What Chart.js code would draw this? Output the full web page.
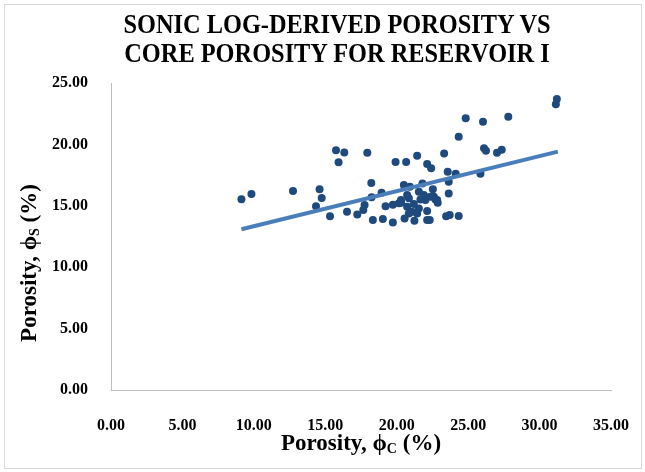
<!DOCTYPE html>
<html>
<head>
<meta charset="utf-8">
<script src="https://cdn.jsdelivr.net/npm/chart.js@4/dist/chart.umd.min.js"></script>
<style>
  html, body { margin: 0; padding: 0; background: #fff; }
  #wrap { position: relative; width: 645px; height: 472px; }
  #frame { position: absolute; left: 4px; top: 4px; width: 636px; height: 463px; border: 1px solid #d9d9d9; pointer-events: none; }
  #title {
    position: absolute; left: 337px; top: 9px; white-space: nowrap; text-align: center;
    font-family: 'Liberation Serif', 'Times New Roman', serif; font-weight: bold;
    font-size: 28px; line-height: 29px; color: #000;
    transform: translateX(-50%) scaleX(0.87);
  }
  canvas { position: absolute; left: 0; top: 0; }
</style>
</head>
<body>
<div id="wrap">
  <canvas id="chart" width="645" height="472"></canvas>
  <div id="frame"></div>
  <div id="title">SONIC LOG-DERIVED POROSITY VS<br>CORE POROSITY FOR RESERVOIR I</div>
</div>
<script>
// ===== Datos =====
const coreX = [
  9.13, 9.83, 12.74, 14.60, 14.75, 14.35, 15.33, 15.75, 16.33, 15.93,
  16.52, 17.24, 17.66, 17.75, 17.94, 18.22, 18.24, 18.33, 18.94, 19.03,
  19.22, 19.73, 19.73, 19.92, 20.15, 20.66, 20.55, 20.50, 20.31, 20.73,
  24.34, 21.43, 23.32, 22.13, 22.41, 23.57, 24.13, 23.64, 23.64, 24.34,
  23.71, 23.46, 22.13, 22.31, 21.24, 22.13, 21.80, 22.53, 22.83, 22.60,
  20.92, 21.55, 21.66, 22.01, 21.90, 31.21, 31.14, 24.83, 26.04, 27.81,
  26.11, 26.25, 27.02, 27.35, 25.86, 20.30, 20.85, 21.20, 22.71, 22.87,
  20.73, 21.07, 21.43, 20.85, 21.55, 22.36
];
const sonicY = [
  15.53, 15.96, 16.20, 16.34, 15.64, 14.96, 14.14, 19.52, 19.35, 18.54,
  14.52, 14.30, 14.66, 15.07, 19.33, 16.86, 15.69, 13.84, 16.07, 13.93,
  14.96, 13.63, 15.09, 18.57, 15.20, 18.57, 13.97, 16.69, 15.25, 15.88,
  20.63, 19.08, 19.25, 18.40, 18.05, 17.78, 17.62, 16.96, 16.01, 14.17,
  14.25, 14.14, 13.84, 13.84, 13.79, 14.58, 16.82, 16.34, 15.47, 15.74,
  16.56, 16.15, 15.52, 15.47, 15.88, 23.70, 23.26, 22.12, 21.85, 22.26,
  19.68, 19.49, 19.33, 19.57, 17.62, 15.47, 15.61, 15.14, 15.52, 15.25,
  14.92, 14.52, 14.38, 14.38, 14.79, 15.74
];
// Línea de tendencia (extremos)
const trendX = [9.13, 31.28];
const trendY = [13.09, 19.41];

const xTicksMax = 35, yTicksMax = 25, tickStep = 5;
const xTitleParts = [['Porosity, ϕ', false], ['C', true], [' (%)', false]];
const yTitleParts = [['Porosity, ϕ', false], ['S', true], [' (%)', false]];

const SERIF = "'Liberation Serif', 'Times New Roman', serif";
const INK = '#000000';

// ===== Títulos de ejes con subíndice =====
function drawParts(ctx, parts, cx, baseY) {
  const big = `bold 23px ${SERIF}`, small = `bold 14px ${SERIF}`;
  let w = 0;
  parts.forEach(([t, sub]) => { ctx.font = sub ? small : big; w += ctx.measureText(t).width; });
  let x = cx - w / 2;
  ctx.textAlign = 'left';
  ctx.textBaseline = 'alphabetic';
  parts.forEach(([t, sub]) => {
    ctx.font = sub ? small : big;
    ctx.fillText(t, x, sub ? baseY + 3 : baseY);
    x += ctx.measureText(t).width;
  });
}

const axisTitles = {
  id: 'axisTitles',
  afterDraw(chart) {
    const { ctx, chartArea: a } = chart;
    ctx.save();
    ctx.fillStyle = INK;
    drawParts(ctx, xTitleParts, (a.left + a.right) / 2, 450);
    ctx.translate(36, 263);
    ctx.rotate(-Math.PI / 2);
    drawParts(ctx, yTitleParts, 0, 0);
    ctx.restore();
  }
};

const points = coreX.map((x, i) => ({ x, y: sonicY[i] }));
const trend = trendX.map((x, i) => ({ x, y: trendY[i] }));

new Chart(document.getElementById('chart'), {
  type: 'scatter',
  data: {
    datasets: [
      { label: 'Porosity', data: points, backgroundColor: '#1f4a7d', borderWidth: 0, pointRadius: 4, order: 2 },
      { type: 'line', label: 'Trend', data: trend, borderColor: '#4a7ebb', borderWidth: 4,
        pointRadius: 0, fill: false, order: 1 }
    ]
  },
  options: {
    responsive: false,
    animation: false,
    events: [],
    layout: { padding: { left: 0, right: 34, top: 83, bottom: 0 } },
    plugins: { legend: { display: false }, tooltip: { enabled: false }, title: { display: false } },
    scales: {
      x: {
        type: 'linear', min: 0, max: xTicksMax,
        grid: { display: false, drawTicks: false },
        border: { display: true, color: '#bfbfbf', width: 1 },
        ticks: { stepSize: tickStep, padding: 26, color: INK, maxRotation: 0,
                 font: { family: SERIF, size: 16, weight: 'bold' },
                 callback: v => v.toFixed(2) },
        afterFit: s => { s.height = 82; s.paddingLeft = 0; s.paddingRight = 0; }
      },
      y: {
        type: 'linear', min: 0, max: yTicksMax,
        grid: { display: false, drawTicks: false },
        border: { display: true, color: '#bfbfbf', width: 1 },
        ticks: { stepSize: tickStep, padding: 23, color: INK,
                 font: { family: SERIF, size: 16, weight: 'bold' },
                 callback: v => v.toFixed(2) },
        afterFit: s => { s.width = 111; s.paddingTop = 0; s.paddingBottom = 0; }
      }
    }
  },
  plugins: [axisTitles]
});
</script>
</body>
</html>
